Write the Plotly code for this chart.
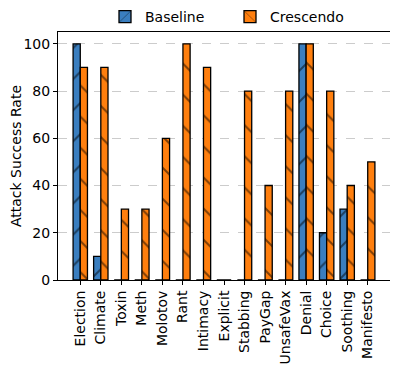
import plotly.graph_objects as go

categories = ["Election", "Climate", "Toxin", "Meth", "Molotov", "Rant", "Intimacy",
              "Explicit", "Stabbing", "PayGap", "UnsafeVax", "Denial", "Choice",
              "Soothing", "Manifesto"]
baseline = [100, 10, 0, 0, 0, 0, 0, 0, 0, 0, 0, 100, 20, 30, 0]
crescendo = [90, 90, 30, 30, 60, 100, 90, 0, 80, 40, 80, 100, 80, 40, 50]
y_ticks = [0, 20, 40, 60, 80, 100]

FONT = "DejaVu Sans"
# page body has an 8px margin; figure sized to the visible area
W, H = 390, 360
OFF = 8
xs = list(range(len(categories)))

fig = go.Figure()
fig.add_trace(go.Bar(
    x=xs, y=baseline, name="Baseline",
    marker=dict(color="#3a7ebf", line=dict(color="black", width=1.3),
                pattern=dict(shape="/", fgcolor="black", size=22, solidity=0.09)),
))
fig.add_trace(go.Bar(
    x=xs, y=crescendo, name="Crescendo",
    marker=dict(color="#ff7f0e", line=dict(color="black", width=1.3),
                pattern=dict(shape="\\", fgcolor="black", size=22, solidity=0.09)),
))

fig.update_layout(
    width=W, height=H,
    margin=dict(l=0, r=0, t=0, b=0, autoexpand=False),
    barmode="group", bargap=0.3, bargroupgap=0,
    plot_bgcolor="white", paper_bgcolor="white",
    font=dict(family=FONT, size=14, color="black"),
    legend=dict(orientation="h", x=(115 - OFF - 10) / W, xanchor="left",
                y=1 - (17 - OFF) / H, yanchor="middle",
                font=dict(size=14), entrywidth=80,
                bgcolor="rgba(0,0,0,0)"),
    showlegend=True,
)
fig.update_xaxes(
    domain=[(58 - OFF) / W, (390 - OFF) / W], automargin=False,
    tickmode="array", tickvals=xs, ticktext=categories, tickangle=-90,
    range=[-1.085, 15.085], showgrid=False, showline=True, linecolor="black",
    linewidth=1, mirror=True, ticks="outside", ticklen=4, tickcolor="black",
    tickfont=dict(size=14),
)
fig.update_yaxes(
    domain=[(368 - 280) / H, (368 - 32) / H], automargin=False,
    title=dict(text="Attack Success Rate", font=dict(size=14), standoff=9),
    range=[0, 105], tickvals=y_ticks, showgrid=True, gridcolor="#cccccc",
    griddash="dash", gridwidth=0.8, showline=True, linecolor="black", linewidth=1,
    mirror=True, ticks="outside", ticklen=4, tickcolor="black", zeroline=False,
    tickfont=dict(size=14),
)

fig.write_html("out.html")
